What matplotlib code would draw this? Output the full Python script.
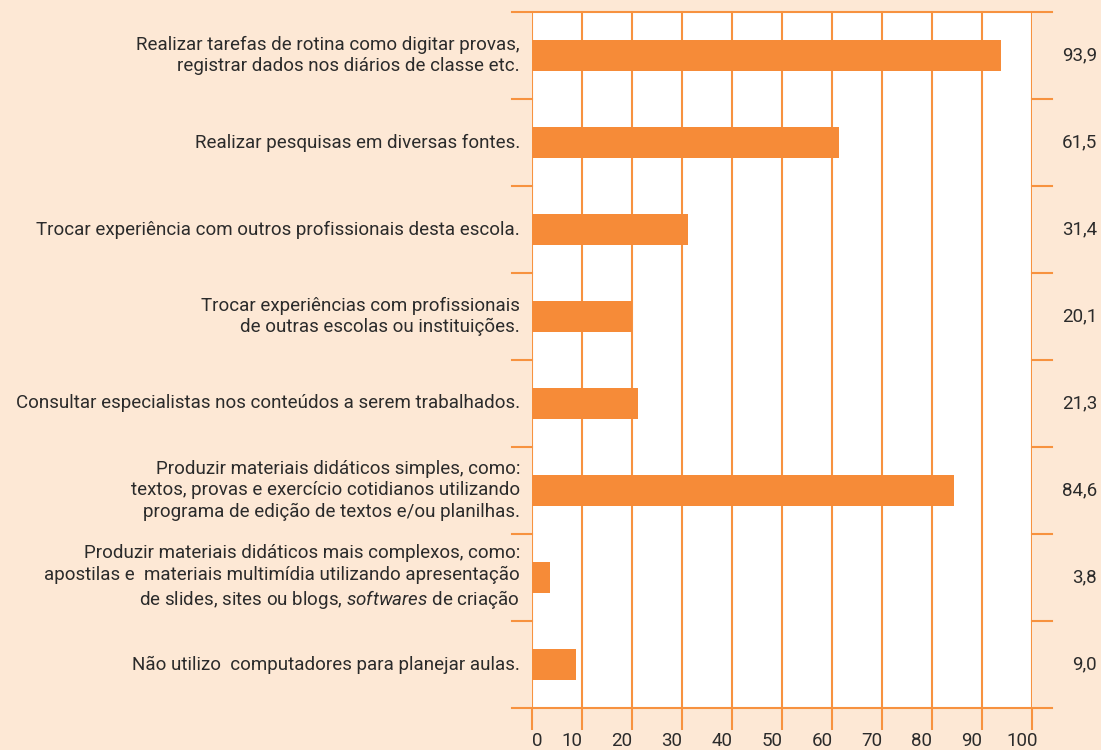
import matplotlib
matplotlib.use("Agg")
import matplotlib.pyplot as plt
import matplotlib.transforms as mtransforms

plt.rcParams['font.family'] = ['Roboto', 'DejaVu Sans']
plt.rcParams['mathtext.fontset'] = 'custom'
plt.rcParams['mathtext.rm'] = 'Roboto'
plt.rcParams['mathtext.it'] = 'Roboto:italic'

# Usos do computador no planejamento das aulas (%)
categorias = [
    "Realizar tarefas de rotina como digitar provas,\nregistrar dados nos diários de classe etc.",
    "Realizar pesquisas em diversas fontes.",
    "Trocar experiência com outros profissionais desta escola.",
    "Trocar experiências com profissionais\nde outras escolas ou instituições.",
    "Consultar especialistas nos conteúdos a serem trabalhados.",
    "Produzir materiais didáticos simples, como:\ntextos, provas e exercício cotidianos utilizando\nprograma de edição de textos e/ou planilhas.",
    "Produzir materiais didáticos mais complexos, como:\napostilas e  materiais multimídia utilizando apresentação\nde slides, sites ou blogs, $\\mathit{softwares}$ de criação",
    "Não utilizo  computadores para planejar aulas.",
]
valores = [93.9, 61.5, 31.4, 20.1, 21.3, 84.6, 3.8, 9.0]
rotulos = ["93,9", "61,5", "31,4", "20,1", "21,3", "84,6", "3,8", "9,0"]
ticks = list(range(0, 101, 10))

laranja = '#f68b38'
linha = '#f7923f'
fundo = '#fde8d5'
texto = '#2b2b2b'

W, H = 1101, 750
fig = plt.figure(figsize=(W / 100, H / 100), dpi=100, facecolor=fundo)
ax = fig.add_axes([532 / W, 1 - 708 / H, 500 / W, 696 / H])
ax.set_facecolor('white')

n = len(categorias)
ypos = [n - 0.5 - i for i in range(n)]
ax.barh(ypos, valores, height=0.36, color=laranja, zorder=3, left=-0.2)

ax.set_xlim(0, 100)
ax.set_ylim(0, n)
for s in ax.spines.values():
    s.set_visible(False)

# grade vertical
for t in ticks:
    ax.axvline(t, color=linha, lw=1.5, zorder=2)

# linhas horizontais de separação (topo e base longas, marcas curtas nas laterais)
px = 100 / 500  # unidades de dados por pixel
for k in range(n + 1):
    if k in (0, n):
        ax.plot([-20 * px, 100 + 20 * px], [k, k], color=linha, lw=1.5, clip_on=False, zorder=2)
    else:
        ax.plot([-20 * px, 0], [k, k], color=linha, lw=1.5, clip_on=False, zorder=2)
        ax.plot([100, 100 + 20 * px], [k, k], color=linha, lw=1.5, clip_on=False, zorder=2)

ax.set_yticks([])
ax.set_xticks(ticks)
ax.set_xticklabels([str(t) for t in ticks])
ax.tick_params(axis='x', length=16, width=1.5, color=linha, labelsize=13.5,
               labelcolor=texto, pad=1.5)
for t, lab in zip(ticks, ax.get_xticklabels()):
    dx = 5 if t == 0 else -10
    lab.set_transform(lab.get_transform() + mtransforms.ScaledTranslation(dx / 100, 0, fig.dpi_scale_trans))

# rótulos das categorias e valores
for y, cat, rot in zip(ypos, categorias, rotulos):
    ax.annotate(cat, xy=(0, y), xycoords='data', xytext=(-12, 0), textcoords='offset pixels',
                ha='right', va='center', fontsize=13.5, color=texto, linespacing=1.25,
                annotation_clip=False)
    ax.annotate(rot, xy=(100, y), xycoords='data', xytext=(65, 0), textcoords='offset pixels',
                ha='right', va='center', fontsize=13.5, color=texto, annotation_clip=False)

fig.savefig('out.png', dpi=100, facecolor=fundo)
